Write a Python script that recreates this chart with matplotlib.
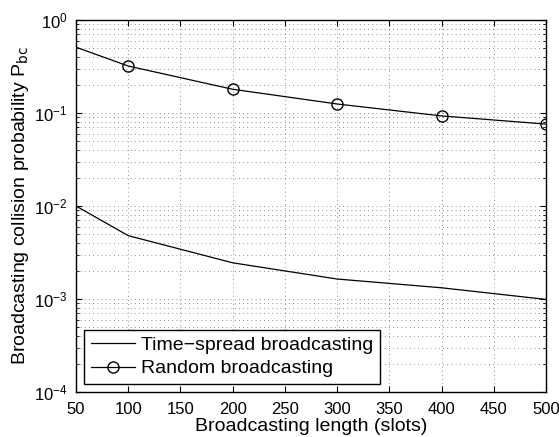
import numpy as np
import matplotlib
matplotlib.use('Agg')
import matplotlib.pyplot as plt
from matplotlib.ticker import LogLocator, NullFormatter

plt.rcParams['font.family'] = ['Liberation Sans', 'DejaVu Sans']

# data
x_ts = [50, 100, 200, 300, 400, 500]
p_ts = [0.0100, 0.0048, 0.00245, 0.00164, 0.00132, 0.00099]  # Time-spread broadcasting

x_rb = [50, 100, 200, 300, 400, 500]
p_rb = [0.51, 0.32, 0.18, 0.125, 0.093, 0.076]  # Random broadcasting

xticks = [50, 100, 150, 200, 250, 300, 350, 400, 450, 500]

fig = plt.figure(figsize=(5.59, 4.37), dpi=100)
ax = fig.add_axes([76 / 559, 45 / 437, 470 / 559, 372 / 437])

ax.semilogy(x_ts, p_ts, color='black', lw=0.9, label='Time\u2212spread broadcasting')
ax.semilogy(x_rb, p_rb, color='black', lw=0.9, marker='o', markersize=8,
            markerfacecolor='none', markevery=list(range(1, len(x_rb))),
            label='Random broadcasting')

ax.set_xlim(50, 500)
ax.set_ylim(1e-4, 1)
ax.set_xticks(xticks)
ax.yaxis.set_major_locator(LogLocator(base=10, numticks=10))
ax.yaxis.set_minor_locator(LogLocator(base=10, subs=np.arange(2, 10), numticks=20))
ax.yaxis.set_minor_formatter(NullFormatter())

ax.grid(True, which='major', linestyle=(0, (1, 4)), color='black', lw=0.6, alpha=0.6)
ax.grid(True, which='minor', axis='y', linestyle=(0, (1, 4)), color='black', lw=0.6, alpha=0.6)

ax.tick_params(which='both', direction='in', top=True, right=True, labelsize=12)
ax.tick_params(which='major', length=4)
ax.tick_params(which='minor', length=2)
ax.tick_params(axis='x', pad=7)
ax.tick_params(axis='y', pad=6)
for s in ax.spines.values():
    s.set_linewidth(1.0)

ax.set_xlabel('Broadcasting length (slots)', fontsize=14, labelpad=1)
ax.set_ylabel('Broadcasting collision probability P$_{\\mathrm{bc}}$', fontsize=14, labelpad=2)

leg = ax.legend(loc='lower left', fontsize=14, fancybox=False, framealpha=1,
                edgecolor='black', borderaxespad=0.4, handlelength=2.3,
                borderpad=0.35, labelspacing=0.3, handletextpad=0.3)
leg.get_frame().set_linewidth(1.0)

fig.savefig('out.png', dpi=100)
